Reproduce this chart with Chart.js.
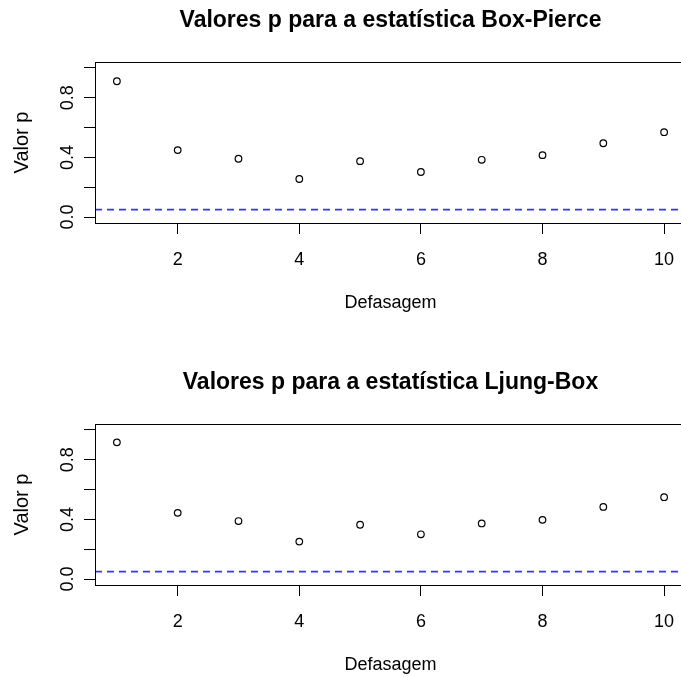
<!DOCTYPE html>
<html>
<head>
<meta charset="utf-8">
<title>Valores p</title>
<script src="https://cdn.jsdelivr.net/npm/chart.js@4/dist/chart.umd.min.js"></script>
<style>
  html, body { margin: 0; padding: 0; background: #fff; overflow: hidden; width: 681px; height: 677px; }
  .panel { position: absolute; left: 0; }
</style>
</head>
<body>
<canvas id="bp" class="panel" width="700" height="362" style="top:0"></canvas>
<canvas id="lb" class="panel" width="700" height="362" style="top:362px"></canvas>
<script>
// Lags (defasagens) tested
const lags = [1, 2, 3, 4, 5, 6, 7, 8, 9, 10];
// p-values of the Box-Pierce test for each lag
const boxPierceP = [0.911, 0.449, 0.391, 0.255, 0.375, 0.302, 0.384, 0.415, 0.495, 0.569];
// p-values of the Ljung-Box test for each lag
const ljungBoxP = [0.917, 0.444, 0.389, 0.251, 0.364, 0.300, 0.373, 0.397, 0.484, 0.549];
// Significance level drawn as a dashed reference line
const alpha = 0.05;
// Axis ticks
const xTicks = [2, 4, 6, 8, 10];
const yTicks = [0, 0.2, 0.4, 0.6, 0.8, 1.0];
const yTickLabels = ['0.0', '', '0.4', '', '0.8', ''];
// Axis limits (data range padded by 4%, as in R)
const X_MIN = 0.64, X_MAX = 10.36;
const Y_MIN = -0.04, Y_MAX = 1.04;

Chart.defaults.font.family = "'Liberation Sans', Arial, sans-serif";
Chart.defaults.color = '#000';

// Draws the closed frame around the plotting region
const frame = {
  id: 'frame',
  afterDraw(chart) {
    const a = chart.chartArea, ctx = chart.ctx;
    ctx.save();
    ctx.strokeStyle = '#000';
    ctx.lineWidth = 1;
    ctx.strokeRect(Math.round(a.left) + 0.5, Math.round(a.top) + 0.5,
                   Math.round(a.right - a.left), Math.round(a.bottom - a.top));
    ctx.restore();
  }
};

function makePanel(id, title, values) {
  const points = lags.map((lag, i) => ({ x: lag, y: values[i] }));
  return new Chart(document.getElementById(id), {
    type: 'scatter',
    data: {
      datasets: [
        {
          data: points,
          pointStyle: 'circle',
          pointRadius: 3.3,
          pointBorderWidth: 1.2,
          pointBorderColor: '#000',
          pointBackgroundColor: 'rgba(0,0,0,0)',
          showLine: false
        },
        {
          type: 'line',
          data: [{ x: X_MIN, y: alpha }, { x: X_MAX, y: alpha }],
          borderColor: '#3535ff',
          borderWidth: 1.6,
          borderDash: [7, 5],
          pointRadius: 0,
          fill: false
        }
      ]
    },
    options: {
      responsive: false,
      animation: false,
      devicePixelRatio: 1,
      layout: { padding: { left: 0, right: 14, top: 0, bottom: 0 } },
      plugins: {
        legend: { display: false },
        tooltip: { enabled: false },
        title: {
          display: true,
          fullSize: false, // centred over the plotting region only
          text: title,
          color: '#000',
          font: { size: 23, weight: 'bold' },
          padding: { top: 7, bottom: 27.4 }
        }
      },
      scales: {
        x: {
          type: 'linear',
          min: X_MIN,
          max: X_MAX,
          afterBuildTicks(scale) { scale.ticks = xTicks.map(v => ({ value: v })); },
          afterFit(scale) { scale.height = 139; },
          ticks: {
            font: { size: 18 },
            color: '#000',
            padding: 15.5,
            maxRotation: 0,
            callback: v => String(v)
          },
          grid: { drawOnChartArea: false, drawTicks: true, tickLength: 11, color: '#000', lineWidth: 1 },
          border: { display: false },
          title: {
            display: true,
            text: 'Defasagem',
            color: '#000',
            font: { size: 18 },
            padding: { top: 0, bottom: 48.5 }
          }
        },
        y: {
          type: 'linear',
          min: Y_MIN,
          max: Y_MAX,
          afterBuildTicks(scale) { scale.ticks = yTicks.map(v => ({ value: v })); },
          afterFit(scale) { scale.width = 95; },
          ticks: {
            font: { size: 18 },
            color: '#000',
            padding: 3.5,
            minRotation: 90,
            maxRotation: 90,
            crossAlign: 'center',
            callback: (v, i) => yTickLabels[i]
          },
          grid: { drawOnChartArea: false, drawTicks: true, tickLength: 11, color: '#000', lineWidth: 1 },
          border: { display: false },
          title: {
            display: true,
            text: 'Valor p',
            color: '#000',
            font: { size: 20 },
            padding: { top: 10.5, bottom: 0 }
          }
        }
      }
    },
    plugins: [frame]
  });
}

makePanel('bp', 'Valores p para a estatística Box-Pierce', boxPierceP);
makePanel('lb', 'Valores p para a estatística Ljung-Box', ljungBoxP);
</script>
</body>
</html>
